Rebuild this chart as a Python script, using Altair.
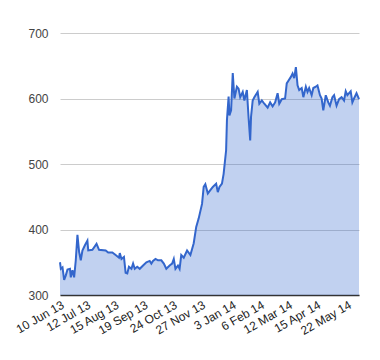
import altair as alt
import pandas as pd

# days since 10 Jun 2013
day_offsets = [0,1,3,5,7,9,12,13,15,17,19,21,23,25,27,30,33,34,39,44,47,55,58,63,67,71,72,74,77,79,
               81,83,86,88,90,93,96,100,104,108,110,112,115,118,122,125,128,132,135,137,139,142,144,146,149,153,157,161,164,167,
               171,173,175,178,181,184,188,190,192,195,197,200,201,203,204,206,208,210,213,215,217,220,222,225,227,229,230,232,234,238,
               240,243,246,250,253,256,259,262,264,267,271,273,275,278,280,282,284,286,288,291,293,296,298,300,303,305,308,310,313,315,
               317,320,323,325,328,330,333,336,339,342,344,346,350,352,354,357,359,360]
prices = [350,340,342,323,330,339,340,327,338,327,353,392,366,353,368,376,383,368,369,378,369,368,365,365,361,357,364,355,358,334,
          333,343,340,348,340,343,340,345,350,352,348,352,355,353,353,348,340,345,348,355,340,345,340,361,357,368,361,379,404,417,
          439,465,469,455,460,465,470,457,465,470,485,521,567,603,574,582,639,600,618,615,602,610,597,613,572,536,572,597,602,610,
          592,597,592,586,594,588,594,608,592,599,600,623,627,633,638,631,648,620,613,616,602,618,610,616,605,616,618,620,605,600,
          582,605,594,589,602,605,589,599,602,597,611,605,611,594,600,608,602,599]

tick_dates = ["2013-06-10", "2013-07-12", "2013-08-15", "2013-09-19", "2013-10-24", "2013-11-27",
              "2014-01-03", "2014-02-06", "2014-03-12", "2014-04-15", "2014-05-22"]
y_ticks = [300, 400, 500, 600, 700]

start = pd.Timestamp("2013-06-10")
df = pd.DataFrame({
    "date": [(start + pd.Timedelta(days=d)).strftime("%Y-%m-%dT00:00:00") for d in day_offsets],
    "price": prices,
})

def dt(s):
    t = pd.Timestamp(s)
    return alt.DateTime(year=t.year, month=t.month, date=t.day)

x = alt.X("date:T",
          scale=alt.Scale(domain=[dt("2013-06-10"), dt("2014-06-05")]),
          axis=alt.Axis(values=[dt(s) for s in tick_dates], format="%-d %b %y", labelAngle=-30,
                        labelAlign="right", labelBaseline="top", ticks=False, grid=False,
                        domainColor="#333333", domainWidth=1.5, labelColor="#222222",
                        labelFontSize=12, labelFont="Liberation Sans", labelPadding=4,
                        labelOverlap=False, labelBound=False, labelFlush=False, title=None))
y = alt.Y("price:Q",
          scale=alt.Scale(domain=[300, 700], zero=False, nice=False),
          axis=alt.Axis(values=y_ticks, ticks=False, domain=False, gridColor="#cccccc",
                        labelColor="#444444", labelFontSize=12, labelFont="Liberation Sans",
                        labelPadding=12, title=None))

base = alt.Chart(df).encode(x=x, y=y)
area = base.mark_area(color="#3366cc", opacity=0.3, interpolate="linear").encode(y2=alt.datum(300))
line = base.mark_line(color="#3366cc", strokeWidth=2)

chart = alt.layer(area, line).properties(
    width=299, height=262,
    autosize=alt.AutoSizeParams(type="none"),
    padding={"left": 52, "top": 25, "right": 13, "bottom": 60},
).configure_view(stroke=None)

chart.save("out.html", embed_options={"renderer": "svg", "actions": False})
